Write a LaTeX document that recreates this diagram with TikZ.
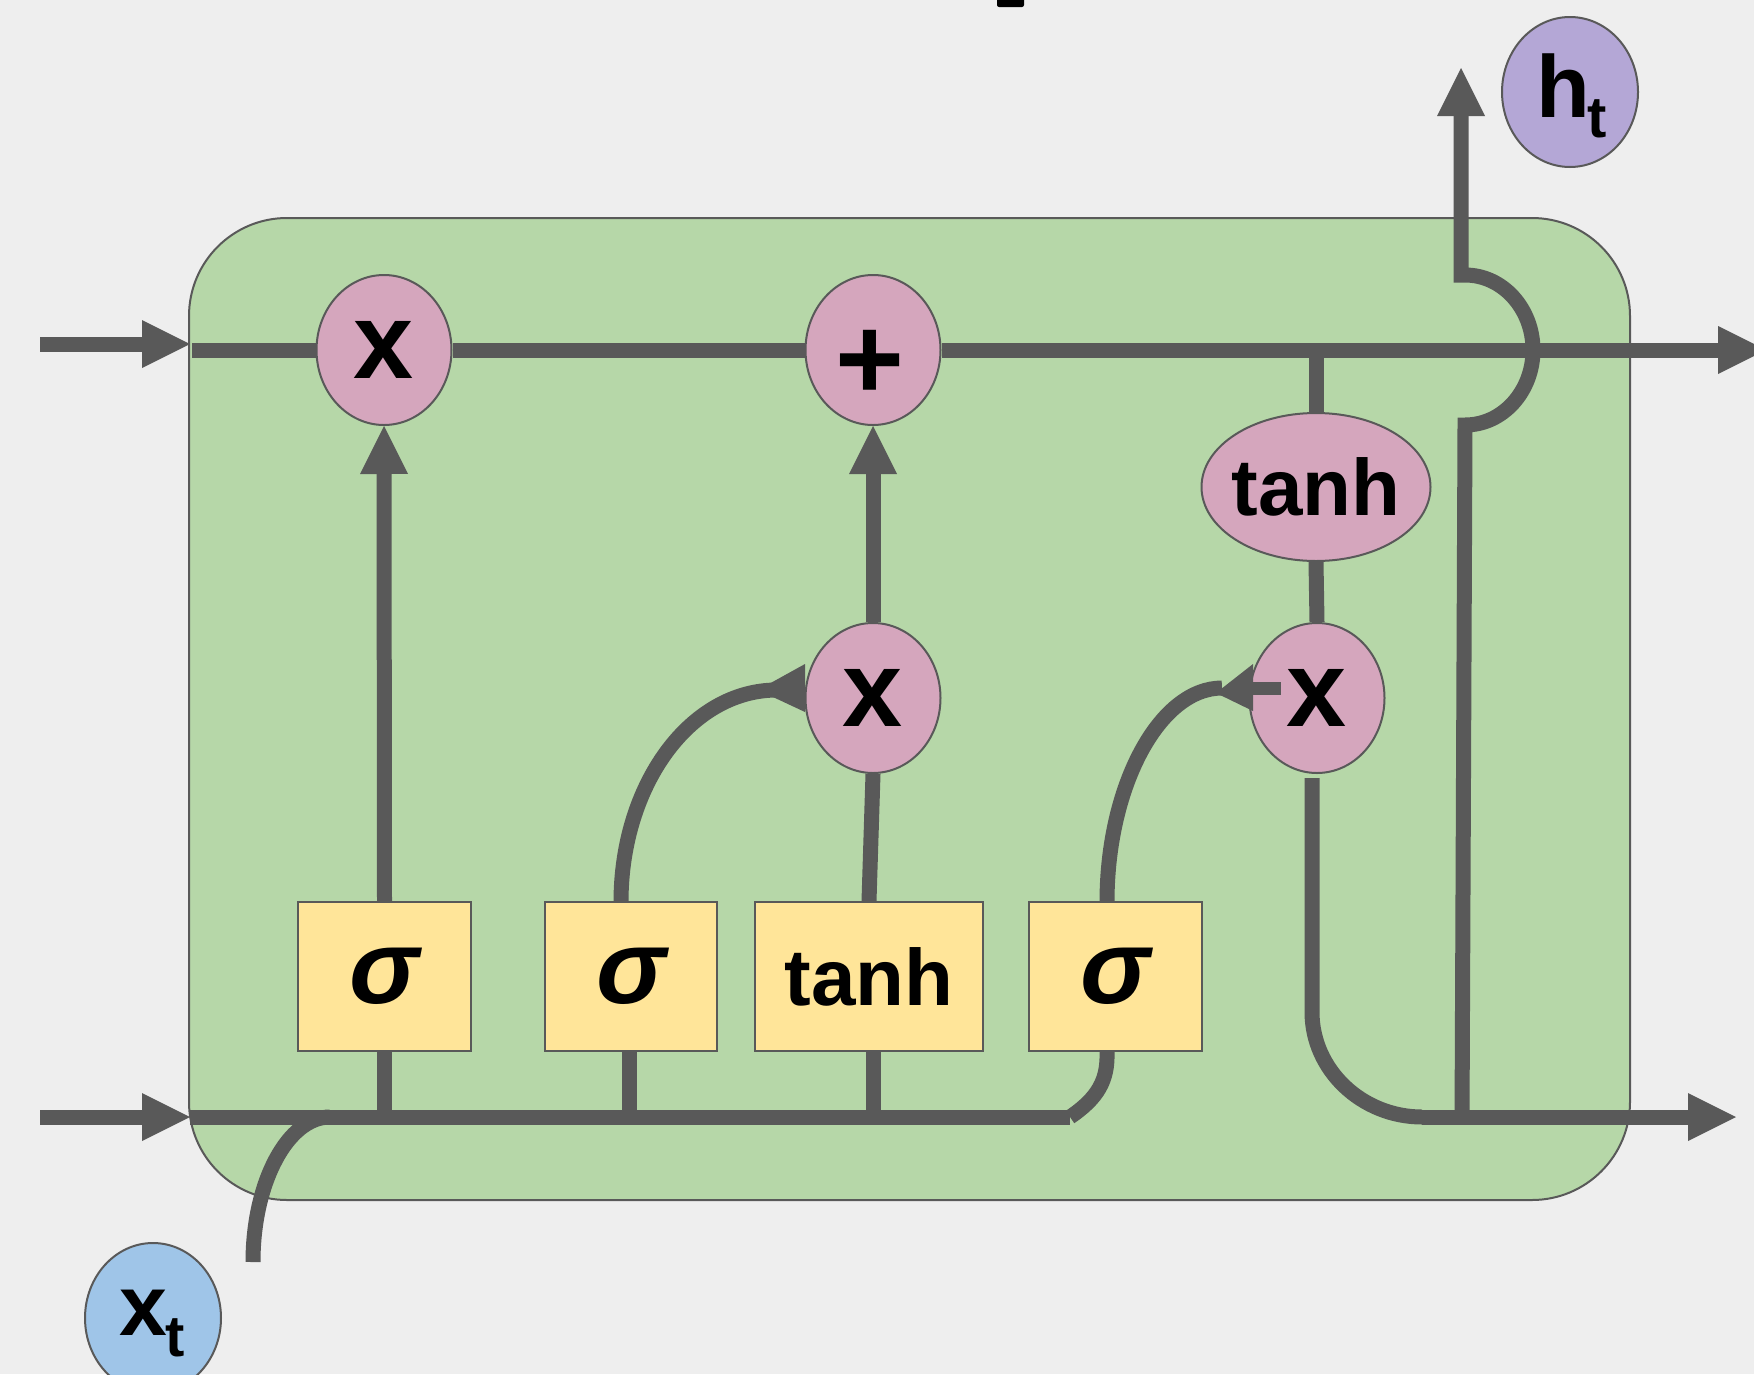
\documentclass[tikz,border=0pt]{standalone}
\usepackage{fontspec}
\setmainfont{Liberation Sans}
\usetikzlibrary{shapes.geometric,arrows.meta,calc}

\definecolor{pagebg}{HTML}{EEEEEE}
\definecolor{cellgreen}{HTML}{B6D7A8}
\definecolor{oppink}{HTML}{D5A6BD}
\definecolor{gateyellow}{HTML}{FFE599}
\definecolor{inblue}{HTML}{9FC5E8}
\definecolor{outpurple}{HTML}{B4A7D6}
\definecolor{wire}{HTML}{595959}

\tikzset{
  wireline/.style={draw=wire, line width=15pt},
  flow/.style={wireline, -{Triangle[length=48pt,width=48pt,line width=0pt]}},
  opnode/.style={ellipse, draw=wire, line width=2pt, fill=oppink,
    minimum width=135pt, minimum height=150pt, inner sep=0pt,
    font=\fontsize{108}{108}\selectfont\bfseries},
  gatebox/.style={rectangle, draw=wire, line width=2pt, fill=gateyellow,
    minimum height=149pt, inner sep=0pt},
  sigmafont/.style={font=\fontsize{105}{105}\selectfont\bfseries\itshape},
  tanhfont/.style={font=\fontsize{80}{80}\selectfont\bfseries},
  bigletter/.style={anchor=base west, inner sep=0pt},
}

\begin{document}
\begin{tikzpicture}[x=1pt,y=-1pt]
  % canvas
  \fill[pagebg] (0,0) rectangle (1754,1374);
  \useasboundingbox (0,0) rectangle (1754,1374);

  % fragment of a heading above the cell
  \fill[black, rounded corners=2pt] (997,-6) rectangle (1024,7);

  % the LSTM cell body
  \node[draw=wire, line width=2pt, fill=cellgreen, rounded corners=98pt,
        minimum width=1441pt, minimum height=982pt, inner sep=0pt,
        anchor=north west] (cell) at (188,217) {};

  % pointwise operations
  \node[opnode] (mulF) at (384,350) {x};
  \node[opnode] (add)  at (873,350) {};
  \node[inner sep=0pt, font=\fontsize{118}{118}\selectfont\bfseries] (addSign) at (870,365) {+};
  \node[opnode] (mulI) at (873,698) {x};
  \node[opnode] (mulO) at (1317,698) {x};
  \node[opnode, minimum width=229pt, minimum height=148pt, inner xsep=-10pt, tanhfont] (tanhC) at (1316,487) {tanh};

  % gate layers
  \node[gatebox, minimum width=173pt, sigmafont] (sigF) at (384.5,976.5) {σ};
  \node[gatebox, minimum width=172pt, sigmafont] (sigI) at (631,976.5) {σ};
  \node[gatebox, minimum width=228pt, tanhfont]  (tanhG) at (869,976.5) {tanh};
  \node[gatebox, minimum width=173pt, sigmafont] (sigO) at (1115.5,976.5) {σ};

  % input and output bubbles
  \node[ellipse, draw=wire, line width=2pt, fill=inblue,
        minimum width=136pt, minimum height=150pt, inner sep=0pt] (xt) at (153,1318) {};
  \node[bigletter, font=\fontsize{86}{86}\selectfont\bfseries] (xtMain) at (119,1335) {x};
  \node[bigletter, font=\fontsize{58}{58}\selectfont\bfseries] (xtSub) at (165,1356) {t};

  \node[ellipse, draw=wire, line width=2pt, fill=outpurple,
        minimum width=136pt, minimum height=150pt, inner sep=0pt] (ht) at (1570,92) {};
  \node[bigletter, font=\fontsize{88}{88}\selectfont\bfseries] (htMain) at (1536,117) {h};
  \node[bigletter, font=\fontsize{58}{58}\selectfont\bfseries] (htSub) at (1587,137) {t};

  % wire end points
  \coordinate (cIn)     at (40,344);
  \coordinate (cInTip)  at (190,344);
  \coordinate (cStart)  at (192,350);
  \coordinate (cOutTip) at (1766,350);
  \coordinate (tap)     at (1316,350);
  \coordinate (xIn)     at (40,1117);
  \coordinate (xInTip)  at (190,1117);
  \coordinate (bStart)  at (190,1117);
  \coordinate (bEnd)    at (1070,1117);
  \coordinate (xUp)     at (253,1262);
  \coordinate (iUp)     at (621,902);
  \coordinate (oUp)     at (1107,902);
  \coordinate (oDown)   at (1312,778);
  \coordinate (hJoin)   at (1422,1117);
  \coordinate (hOutTip) at (1736,1117);
  \coordinate (hRise)   at (1462,1124);
  \coordinate (hTip)    at (1461,68);

  % cell state
  \draw[flow] (cIn) -- (cInTip);
  \draw[wireline] (cStart) -- (mulF.west);
  \draw[wireline] (mulF.east) -- (add.west);
  \draw[flow] (add.east) -- (cOutTip);

  % hidden state / input bus
  \draw[flow] (xIn) -- (xInTip);
  \draw[wireline] (bStart) -- (bEnd);
  \draw[wireline] (xUp) .. controls (253,1182) and (288,1117) .. (330,1117);
  \draw[wireline] (sigF.south) -- (sigF.south |- bStart);
  \draw[wireline] ($(sigI.south)+(-2,0)$) -- ($(sigI.south |- bStart)+(-2,0)$);
  \draw[wireline] ($(tanhG.south)+(4,0)$) -- ($(tanhG.south |- bStart)+(4,0)$);
  \draw[wireline] (bEnd) .. controls (1098,1098) and (1108,1080) .. (sigO.south -| oUp);

  % forget gate
  \draw[flow] (sigF.north) -- (mulF.south);

  % input gate and candidate
  \draw[wireline] (iUp) .. controls (621,785) and (690,690) .. (777,690);
  \fill[wire] (805,664) -- (805,712) -- (758,690) -- cycle;
  \draw[wireline] (tanhG.north) -- (mulI.south);
  \draw[flow] (mulI.north) -- (add.south);

  % output gate
  \draw[wireline] (oUp) .. controls (1107,785) and (1160,688) .. (1222,688);
  \fill[wire] (1253,664) -- (1253,711) -- (1216,693) -- cycle;
  \draw[wire, line width=13pt] (mulO.west |- 0,688) -- (1281,688);
  \draw[wireline] (tap) -- (tanhC.north);
  \draw[wireline] (tanhC.south) -- (mulO.north);
  \draw[wireline] (oDown) -- (1312,1012) .. controls (1312,1070) and (1362,1117) .. (hJoin);
  \draw[flow] (hJoin) -- (hOutTip);

  % hidden state leaving the cell, hopping over the cell state
  \draw[flow] (hRise) -- (1465,425) .. controls (1503,425) and (1533,391) .. (1533,350)
              .. controls (1533,309) and (1503,275) .. (1465,275) -- (1461,275) -- (hTip);
\end{tikzpicture}
\end{document}
